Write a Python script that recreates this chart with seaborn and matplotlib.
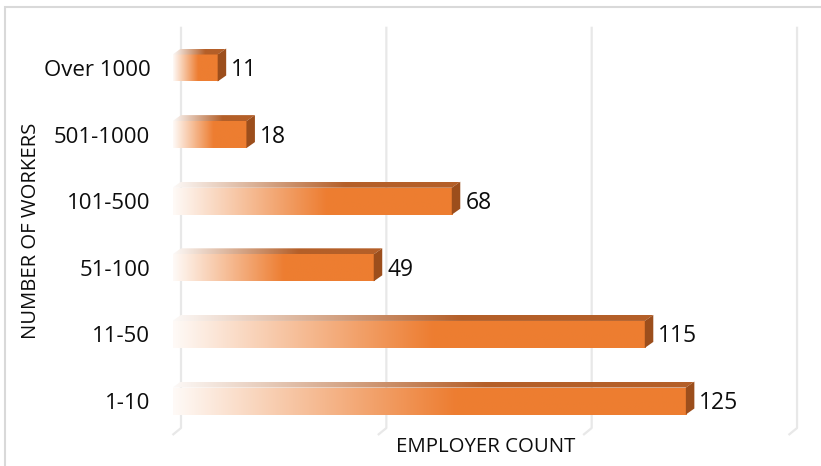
import numpy as np
import matplotlib
matplotlib.use("Agg")
import matplotlib.pyplot as plt
import seaborn as sns
import pandas as pd
from matplotlib.patches import Polygon, Rectangle
from matplotlib.colors import to_rgb

# ---- data ----
categories = ["Over 1000", "501-1000", "101-500", "51-100", "11-50", "1-10"]
counts = [11, 18, 68, 49, 115, 125]
grid_values = [0, 50, 100, 150]
x_label = "EMPLOYER COUNT"
y_label = "NUMBER OF WORKERS"

sns.set_theme(style="white")
plt.rcParams["font.family"] = ["Open Sans", "DejaVu Sans"]
TXT = "#0D0D0D"

W, H = 821, 466
fig = plt.figure(figsize=(W / 100, H / 100), dpi=100)
ax_left, ax_right = 172.5, 798.8
ax_top, ax_bot = 26.7, 435
ax = fig.add_axes([ax_left / W, 1 - ax_bot / H, (ax_right - ax_left) / W, (ax_bot - ax_top) / H])

df = pd.DataFrame({"workers": categories, "count": counts})
sns.barplot(data=df, x="count", y="workers", orient="h", order=categories,
            width=0.405, color="#ED7D31", saturation=1, ax=ax, zorder=3)

XLIM = (0, 152.5)
YLIM = (5.51, -0.62)
px_per_x = (ax_right - ax_left) / (XLIM[1] - XLIM[0])
px_per_y = (ax_bot - ax_top) / (YLIM[0] - YLIM[1])
dx = 8.5 / px_per_x
dy = 6.0 / px_per_y

orange = np.array(to_rgb("#ED7D31"))
top_col = np.array(to_rgb("#B45F29"))
side_col = "#9C4E1C"


def ramp(color, n=256, a0=0.04, frac=0.55):
    t = np.linspace(0, 1, n)
    a = np.clip(a0 + (1 - a0) * t / frac, 0, 1)
    img = np.ones((1, n, 3))
    for c in range(3):
        img[0, :, c] = 1 - a * (1 - color[c])
    return img


for patch in list(ax.patches):
    x0 = patch.get_x()
    w = patch.get_width()
    x1 = x0 + w
    y0 = patch.get_y()
    h = patch.get_height()
    ytop, ybot = min(y0, y0 + h), max(y0, y0 + h)
    patch.set_facecolor("none")
    patch.set_edgecolor("none")
    # front face gradient
    ax.imshow(ramp(orange), extent=[x0, x1, ybot, ytop], aspect="auto",
              interpolation="bilinear", zorder=4)
    # top face
    top_poly = Polygon([(x0, ytop), (x0 + dx, ytop - dy), (x1 + dx, ytop - dy), (x1, ytop)],
                       closed=True, facecolor="none", edgecolor="none")
    ax.add_patch(top_poly)
    im = ax.imshow(ramp(top_col, frac=0.6), extent=[x0, x1 + dx, ytop, ytop - dy], aspect="auto",
                   interpolation="bilinear", zorder=4)
    im.set_clip_path(top_poly)
    # side face
    ax.add_patch(Polygon([(x1, ytop), (x1 + dx, ytop - dy), (x1 + dx, ybot - dy), (x1, ybot)],
                         closed=True, facecolor=side_col, edgecolor="none", zorder=5))
    # value label
    ax.text(x1 + dx + 5 / px_per_x, (ytop + ybot) / 2 + 2 / px_per_y, f"{w:g}", va="center",
            ha="left", fontsize=16.5, color=TXT, zorder=6)

# back-wall gridlines with floor diagonal
y_back = YLIM[0] - 7.0 / px_per_y
for v in grid_values:
    ax.plot([v + dx, v + dx, v], [YLIM[1], y_back, YLIM[0]], color="#E8E8E8",
            lw=1.6, zorder=1, clip_on=False, solid_capstyle="butt")

ax.set_xlim(*XLIM)
ax.set_ylim(*YLIM)
ax.set_xticks([])
ax.set_yticks(range(len(categories)))
ax.set_yticklabels(categories, fontsize=16, color=TXT)
ax.tick_params(axis="y", length=0, pad=16)
for s in ax.spines.values():
    s.set_visible(False)
ax.set_xlabel(x_label, fontsize=14.7, color=TXT, labelpad=1.5)
ax.set_ylabel(y_label, fontsize=14.6, color=TXT, labelpad=1.5)

fig.add_artist(Rectangle((5 / W, -0.1), 1.2, (1 - 7 / H) + 0.1, transform=fig.transFigure,
                         fill=False, ec="#D9D9D9", lw=1.5))

fig.savefig("out.png", dpi=100, facecolor="white")
